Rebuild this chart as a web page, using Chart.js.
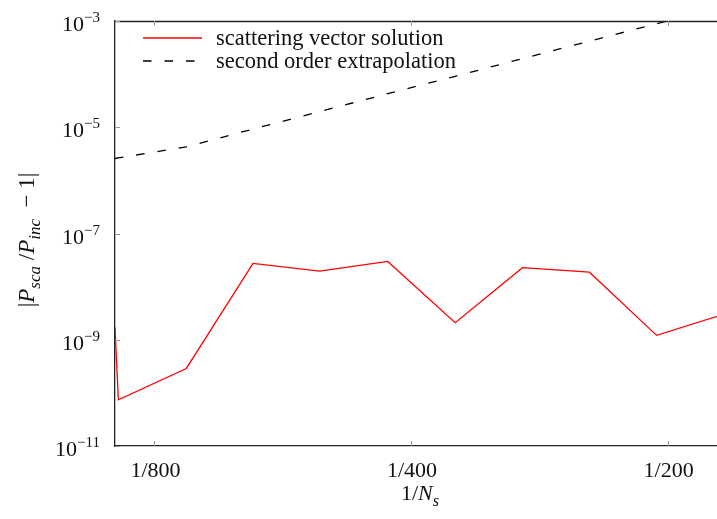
<!DOCTYPE html>
<html>
<head>
<meta charset="utf-8">
<script src="https://cdn.jsdelivr.net/npm/chart.js@4.4.1/dist/chart.umd.min.js"></script>
<style>
    html, body { margin: 0; padding: 0; background: #fff; overflow: hidden; }
    #wrap { position: relative; width: 717px; height: 519px; }
</style>
</head>
<body>
<div id="wrap"><canvas id="errorChart"></canvas></div>
<script>
// N_s for each run, plotted as 1/N_s
const sampleCounts = [890, 882, 734, 613, 512, 426, 355, 296, 247, 206, 172];
const scatteringError = [1.71e-9, 7.4e-11, 2.88e-10, 2.73e-8, 1.96e-8, 2.98e-8, 2.09e-9, 2.27e-8, 1.87e-8, 1.21e-9, 3.0e-9];
const extrapolationError = [2.58e-6, 2.65e-6, 4.27e-6, 9.25e-6, 1.97e-5, 4.28e-5, 9.1e-5, 1.96e-4, 4.17e-4, 8.89e-4, 1.9e-3];
const xTickCounts = [800, 400, 200];
const yTickExponents = [-3, -5, -7, -9, -11];
const seriesLabels = ['scattering vector solution', 'second order extrapolation'];

const SERIF = '"Liberation Serif", "Times New Roman", serif';
const DASH = [8.5, 13];

function font(size, italic) {
    return (italic ? 'italic ' : '') + size + 'px ' + SERIF;
}

// parts: [text, size, italic, dy]
function drawRich(ctx, parts, x, y, align) {
    let w = 0;
    parts.forEach((p) => {
        ctx.font = font(p[1], p[2]);
        w += ctx.measureText(p[0]).width;
    });
    let cx = align === 'right' ? x - w : align === 'center' ? x - w / 2 : x;
    parts.forEach((p) => {
        ctx.font = font(p[1], p[2]);
        ctx.fillText(p[0], cx, y + (p[3] || 0));
        cx += ctx.measureText(p[0]).width;
    });
}

const decorations = {
    id: 'decorations',
    afterDraw(chart) {
        const { ctx, chartArea: a, scales } = chart;
        ctx.save();
        ctx.fillStyle = '#111';
        ctx.textBaseline = 'alphabetic';

        // top frame line
        ctx.strokeStyle = '#222';
        ctx.lineWidth = 1.3;
        ctx.beginPath();
        ctx.moveTo(a.left, a.top + 0.5);
        ctx.lineTo(a.right, a.top + 0.5);
        ctx.stroke();

        // inward tick marks
        ctx.strokeStyle = '#999';
        ctx.lineWidth = 1;
        ctx.beginPath();
        xTickCounts.forEach((n) => {
            const px = Math.round(scales.x.getPixelForValue(1 / n)) + 0.5;
            ctx.moveTo(px, a.bottom);
            ctx.lineTo(px, a.bottom - 5);
            ctx.moveTo(px, a.top);
            ctx.lineTo(px, a.top + 5);
        });
        yTickExponents.forEach((e) => {
            const py = Math.round(scales.y.getPixelForValue(Math.pow(10, e))) + 0.5;
            ctx.moveTo(a.left, py);
            ctx.lineTo(a.left + 5, py);
        });
        ctx.stroke();

        // y tick labels 10^e
        yTickExponents.forEach((e) => {
            const py = scales.y.getPixelForValue(Math.pow(10, e));
            drawRich(ctx, [['10', 22, false, 0], ['\u2212' + Math.abs(e), 15, false, -9]], 100, py + 10, 'right');
        });

        // x tick labels 1/N
        xTickCounts.forEach((n) => {
            const px = scales.x.getPixelForValue(1 / n);
            drawRich(ctx, [['1/' + n, 22, false, 0]], px + 1, 477, 'center');
        });

        // x title
        drawRich(ctx, [['1/', 22, false, 0], ['N', 22, true, 0], ['s', 16, true, 6]], 420, 500, 'center');

        // y title, rotated
        ctx.save();
        ctx.translate(34, 240);
        ctx.rotate(-Math.PI / 2);
        drawRich(ctx, [
            ['|', 23, false, 0], ['P', 23, true, 0], ['sca', 17, true, 6], [' /', 23, false, 0],
            ['P', 23, true, 0], ['inc', 17, true, 6], ['  \u2212 1|', 23, false, 0]
        ], 0, 0, 'center');
        ctx.restore();

        // legend
        const rows = [
            { label: seriesLabels[0], color: '#ff0000', dash: [], y: 38 },
            { label: seriesLabels[1], color: '#000', dash: DASH, y: 61 }
        ];
        rows.forEach((r) => {
            ctx.strokeStyle = r.color;
            ctx.lineWidth = 1.3;
            ctx.setLineDash(r.dash);
            ctx.beginPath();
            ctx.moveTo(143, r.y);
            ctx.lineTo(202, r.y);
            ctx.stroke();
            ctx.setLineDash([]);
            drawRich(ctx, [[r.label, 22.5, false, 0]], 216, r.y + 7, 'left');
        });
        ctx.restore();
    }
};

const ctx = document.getElementById('errorChart');
new Chart(ctx.getContext('2d'), {
    type: 'line',
    data: {
        datasets: [
            {
                label: seriesLabels[0],
                data: sampleCounts.map((n, i) => ({ x: 1 / n, y: scatteringError[i] })),
                borderColor: '#ff0000',
                borderWidth: 1.3,
                pointRadius: 0,
                tension: 0,
                fill: false
            },
            {
                label: seriesLabels[1],
                data: sampleCounts.map((n, i) => ({ x: 1 / n, y: extrapolationError[i] })),
                borderColor: '#000',
                borderWidth: 1.3,
                borderDash: DASH,
                pointRadius: 0,
                tension: 0,
                fill: false
            }
        ]
    },
    options: {
        responsive: true,
        maintainAspectRatio: false,
        animation: false,
        layout: { padding: { top: 21, right: 0, left: 0, bottom: 0 } },
        plugins: { legend: { display: false }, tooltip: { enabled: false } },
        scales: {
            x: {
                type: 'logarithmic',
                min: 1 / 890,
                max: 1 / 175,
                afterBuildTicks: (s) => { s.ticks = xTickCounts.map((n) => ({ value: 1 / n })); },
                afterFit: (s) => { s.height = 73; },
                ticks: { display: false },
                grid: { display: false },
                border: { display: true, color: '#222', width: 1.3 }
            },
            y: {
                type: 'logarithmic',
                min: 1e-11,
                max: 1e-3,
                afterBuildTicks: (s) => { s.ticks = yTickExponents.map((e) => ({ value: Math.pow(10, e) })); },
                afterFit: (s) => { s.width = 115; },
                ticks: { display: false },
                grid: { display: false },
                border: { display: true, color: '#222', width: 1.3 }
            }
        }
    },
    plugins: [decorations]
});
</script>
</body>
</html>
